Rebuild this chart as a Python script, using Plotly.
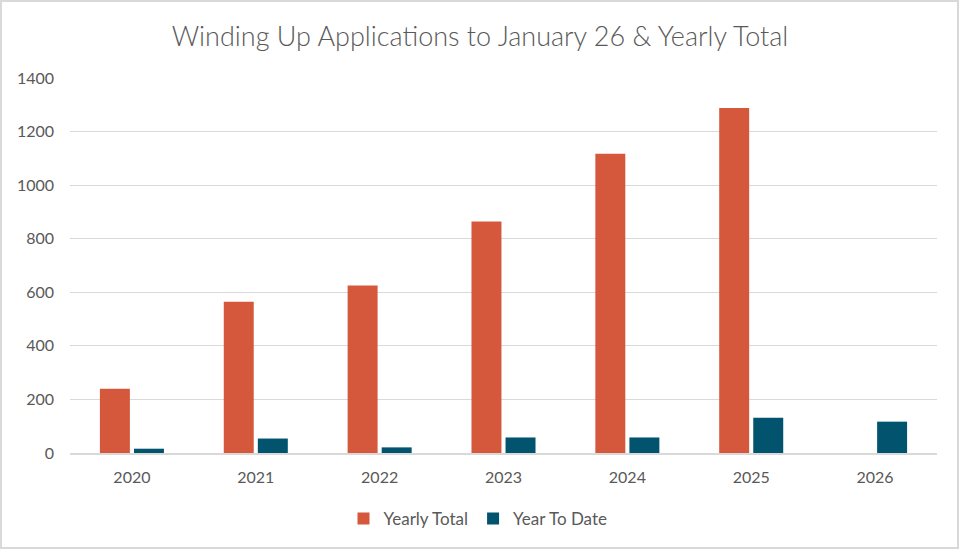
import plotly.graph_objects as go

years = ["2020", "2021", "2022", "2023", "2024", "2025", "2026"]
yearly_total = [240, 565, 625, 864, 1117, 1288, None]
year_to_date = [16, 54, 21, 58, 58, 132, 117]
y_ticks = [0, 200, 400, 600, 800, 1000, 1200, 1400]

W, H = 960, 550
L, R, T, B = 70, 23, 78, 97
pw, ph = W - L - R, H - T - B

fam = "Lato, Open Sans, sans-serif"
grey = "#595959"

fig = go.Figure()
fig.add_trace(go.Bar(x=years, y=yearly_total, name="Yearly Total",
                     marker=dict(color="#D5583C", line=dict(width=0))))
fig.add_trace(go.Bar(x=years, y=year_to_date, name="Year To Date",
                     marker=dict(color="#02536E", line=dict(width=0))))


def px_x(p):
    return (p - L) / pw


def px_y(p):
    return 1 - (p - T) / ph


fig.update_layout(
    width=W, height=H,
    margin=dict(l=L, r=R, t=T, b=B),
    paper_bgcolor="white", plot_bgcolor="white",
    barmode="group", bargap=0.45, bargroupgap=0.12,
    title=dict(text="Winding Up Applications to January 26 & Yearly Total",
               x=0.5, xanchor="center", y=1 - 37 / H, yanchor="middle",
               font=dict(family=fam, size=27, color=grey, weight=300)),
    font=dict(family=fam, size=16, color=grey),
    legend=dict(orientation="h", x=px_x(478), xanchor="center", y=px_y(519),
                yanchor="middle", font=dict(size=17, color=grey),
                itemwidth=30, traceorder="normal"),
    xaxis=dict(showgrid=False, showline=True, linecolor="#D9D9D9", linewidth=1.5,
               ticks="", tickfont=dict(size=16, color=grey),
               ticklabelstandoff=9),
    yaxis=dict(range=[0, 1400], tickvals=y_ticks, showgrid=True,
               gridcolor="#D9D9D9", gridwidth=1.3, zeroline=False,
               ticks="", tickfont=dict(size=16, color=grey),
               ticklabelstandoff=15),
    shapes=[dict(type="rect", xref="paper", yref="paper",
                 x0=px_x(1), x1=px_x(958),
                 y0=px_y(548), y1=px_y(1),
                 line=dict(color="#D9D9D9", width=2), layer="below")],
)

fig.write_html("out.html", config={"displayModeBar": False},
               post_script="document.body.style.margin='0';")
